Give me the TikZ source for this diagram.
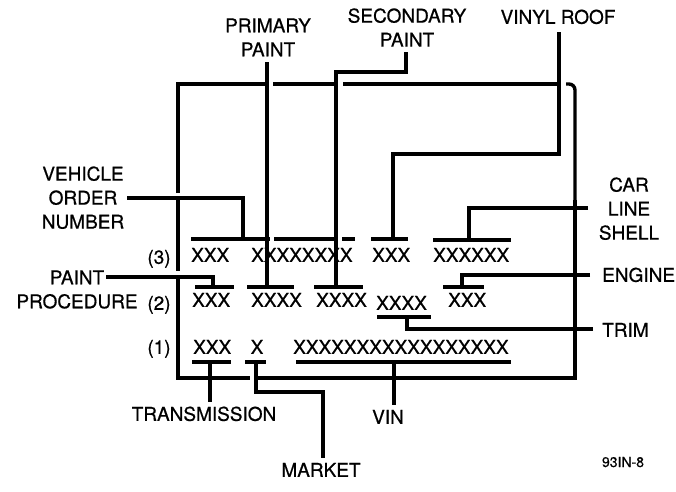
\documentclass[tikz,border=0pt]{standalone}
\usepackage{fontspec}
\setmainfont{TeX Gyre Heros}[FakeBold=0.6]
\begin{document}
\begin{tikzpicture}[x=1pt,y=-1pt,
  lbl/.style={font=\fontsize{19}{24}\selectfont, inner sep=0pt, text height=13.6pt, text depth=0pt},
  mlbl/.style={font=\fontsize{19}{24}\selectfont, inner sep=0pt, align=center, anchor=north},
  small/.style={font=\fontsize{14}{16}\selectfont, inner sep=0pt, text height=10pt, text depth=0pt},
  conn/.style={line width=4.8pt, line cap=butt, line join=miter},
  barl/.style={line width=4.8pt, line cap=butt},
  frm/.style={line width=3.4pt, line join=miter, line cap=butt}]
\useasboundingbox[fill=white] (0,0) rectangle (676,491);

% ---- frame ----
\draw[frm] (178,193) -- (178,84) -- (266,84);
\draw[frm] (273,84) -- (334,84);
\draw[frm] (343,84) -- (559,84);
\draw[frm] (178,198) -- (178,271);
\draw[frm] (178,277) -- (178,378) -- (250,378);
\draw[frm] (258,378) -| (575,200);
\draw[frm, rounded corners=6pt] (575,215) |- (566,84);

% ---- code texts ----
\node[lbl, anchor=west] (t3a) at (191,255) {XXX};
\node[lbl, anchor=west] (t3b) at (251,255) {XXXXXXXX};
\node[lbl, anchor=west] (t3c) at (372,255) {XXX};
\node[lbl, anchor=west] (t3d) at (433,255) {XXXXXX};
\node[lbl, anchor=west] (t2a) at (192,300) {XXX};
\node[lbl, anchor=west] (t2b) at (251,300) {XXXX};
\node[lbl, anchor=west] (t2c) at (316,300) {XXXX};
\node[lbl, anchor=west] (t2d) at (376,303) {XXXX};
\node[lbl, anchor=west] (t2e) at (448,300) {XXX};
\node[lbl, anchor=west] (t1a) at (193,347) {XXX};
\node[lbl] (t1b) at (257,347) {X};
\node[lbl, anchor=west] (t1c) at (293,347) {XXXXXXXXXXXXXXXXX};
\node[lbl] (r3) at (159,257) {(3)};
\node[lbl] (r2) at (159,303) {(2)};
\node[lbl] (r1) at (159,347) {(1)};

% ---- labels ----
\node[mlbl] (prim) at (268,18.2) {PRIMARY\\PAINT};
\node[mlbl] (sec) at (407,8.2) {SECONDARY\\PAINT};
\node[lbl] (vinyl) at (558,17) {VINYL ROOF};
\node[mlbl] (veh) at (83,166.2) {VEHICLE\\ORDER\\NUMBER};
\node[mlbl] (pproc) at (77,270.2) {PAINT\\PROCEDURE};
\node[mlbl] (car) at (629,177.2) {CAR\\LINE\\SHELL};
\node[lbl, anchor=west] (eng) at (602,275) {ENGINE};
\node[lbl, anchor=west] (trim) at (602,330) {TRIM};
\node[lbl] (trans) at (204,414) {TRANSMISSION};
\node[lbl] (vin) at (388,417) {VIN};
\node[lbl] (mkt) at (321,470) {MARKET};
\node[small] (fig) at (623,462) {93IN-8};

% ---- bars ----
\coordinate (b3a) at (191,239); \coordinate (b3b) at (270,239);
\coordinate (b3c) at (274,239); \coordinate (b3d) at (334,239);
\coordinate (b3e) at (342,239); \coordinate (b3f) at (355,239);
\coordinate (b3g) at (371,239); \coordinate (b3h) at (408,239);
\coordinate (b3i) at (433,240); \coordinate (b3j) at (511,240);
\draw[barl] (b3a) -- (b3b);
\draw[barl] (b3c) -- (b3d);
\draw[barl] (b3e) -- (b3f);
\draw[barl] (b3g) -- (b3h);
\draw[barl] (b3i) -- (b3j);

\coordinate (b2a) at (195,287); \coordinate (b2b) at (234,287);
\coordinate (b2c) at (247,287); \coordinate (b2d) at (294,287);
\coordinate (b2e) at (314,287); \coordinate (b2f) at (363,287);
\coordinate (b2g) at (443,287); \coordinate (b2h) at (484,287);
\coordinate (btra) at (377,317); \coordinate (btrb) at (431,317);
\draw[barl] (b2a) -- (b2b);
\draw[barl] (b2c) -- (b2d);
\draw[barl] (b2e) -- (b2f);
\draw[barl] (b2g) -- (b2h);
\draw[barl] (btra) -- (btrb);

\coordinate (b1a) at (192,362); \coordinate (b1b) at (231,362);
\coordinate (b1c) at (245,362); \coordinate (b1d) at (266,362);
\coordinate (b1e) at (296,362); \coordinate (b1f) at (511,362);
\draw[barl] (b1a) -- (b1b);
\draw[barl] (b1c) -- (b1d);
\draw[barl] (b1e) -- (b1f);

% ---- connectors ----
\coordinate (vo0) at (127,198); \coordinate (vo1) at (243,239);
\draw[conn] (vo0) -| (vo1);
\coordinate (pr0) at (267,62); \coordinate (pr1) at (267,287);
\draw[conn] (pr0) -- (pr1);
\coordinate (se0) at (406,52); \coordinate (se1) at (336,72); \coordinate (se2) at (336,287);
\draw[conn] (se0) |- (se1) -- (se2);
\coordinate (vr0) at (559,32); \coordinate (vr1) at (393,154); \coordinate (vr2) at (393,239);
\draw[conn] (vr0) |- (vr1) -- (vr2);
\coordinate (cl0) at (588,208); \coordinate (cl1) at (469,240);
\draw[conn] (cl0) -| (cl1);
\coordinate (en0) at (590,275); \coordinate (en1) at (462,287);
\draw[conn] (en0) -| (en1);
\coordinate (tr0) at (593,329); \coordinate (tr1) at (407,317);
\draw[conn] (tr0) -| (tr1);
\coordinate (pp0) at (106,277); \coordinate (pp1) at (213,287);
\draw[conn] (pp0) -| (pp1);
\coordinate (tm0) at (210,362); \coordinate (tm1) at (210,402);
\draw[conn] (tm0) -- (tm1);
\coordinate (mk0) at (256,362); \coordinate (mk1) at (323,392); \coordinate (mk2) at (323,458);
\draw[conn] (mk0) |- (mk1) -- (mk2);
\coordinate (vn0) at (394,362); \coordinate (vn1) at (394,405);
\draw[conn] (vn0) -- (vn1);
\end{tikzpicture}
\end{document}
